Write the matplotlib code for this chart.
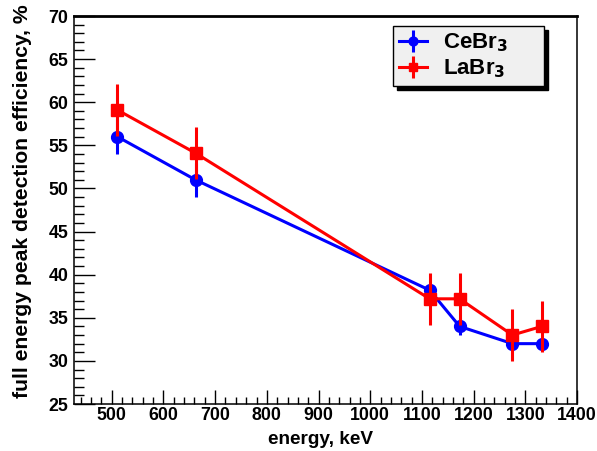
import matplotlib.pyplot as plt
from matplotlib.ticker import MultipleLocator

plt.rcParams['font.family'] = ['Liberation Sans', 'DejaVu Sans']
plt.rcParams['font.weight'] = 'bold'
plt.rcParams['mathtext.default'] = 'bf'

energy = [511, 662, 1115, 1173, 1275, 1332]
cebr3 = [56.0, 51.0, 38.2, 34.0, 32.0, 32.0]
cebr3_err = [2, 2, 0.5, 1, 0.5, 0.5]
labr3 = [59.1, 54.1, 37.2, 37.2, 33.0, 34.0]
labr3_err = [3, 3, 3, 3, 3, 3]

fig = plt.figure(figsize=(5.97, 4.51), dpi=100)
ax = fig.add_axes([0.124, 0.1042, 0.8425, 0.8603])

ax.errorbar(energy, cebr3, yerr=cebr3_err, color='#0000ff', marker='o',
            markersize=8.5, lw=2.2, elinewidth=2.2, capsize=0,
            label='CeBr$_3$', zorder=3)
ax.errorbar(energy, labr3, yerr=labr3_err, color='#ff0000', marker='s',
            markersize=8, lw=2.2, elinewidth=2.2, capsize=0,
            label='LaBr$_3$', zorder=4)

ax.set_xlim(427, 1400)
ax.set_ylim(25, 70)
ax.xaxis.set_major_locator(MultipleLocator(100))
ax.xaxis.set_minor_locator(MultipleLocator(20))
ax.yaxis.set_major_locator(MultipleLocator(5))
ax.yaxis.set_minor_locator(MultipleLocator(1))

ax.tick_params(axis='both', which='both', direction='in', labelsize=12.8,
               top=False, right=False)
ax.tick_params(axis='y', which='major', length=15, width=1, pad=4)
ax.tick_params(axis='y', which='minor', length=7, width=1)
ax.tick_params(axis='x', which='major', length=10, width=1, pad=2)
ax.tick_params(axis='x', which='minor', length=5, width=1)
for lab in ax.get_xticklabels() + ax.get_yticklabels():
    lab.set_fontweight('bold')

for s in ax.spines.values():
    s.set_linewidth(1.1)
ax.spines['top'].set_linewidth(2)

ax.set_xlabel('energy, keV', fontsize=13.7, fontweight='bold')
ax.set_ylabel('full energy peak detection efficiency, %', fontsize=15.2,
              fontweight='bold')
ax.xaxis.set_label_coords(0.49, -0.07)
ax.yaxis.set_label_coords(-0.083, 0.523)

leg = ax.legend(loc='upper left',
                bbox_to_anchor=(393 / 597, 1 - 83 / 451, 151 / 597, 57 / 451),
                bbox_transform=fig.transFigure, mode='expand',
                fontsize=16, frameon=True, fancybox=False, edgecolor='black',
                facecolor='#f0f0f0', framealpha=1,
                shadow={'color': 'black', 'alpha': 1, 'ox': 3, 'oy': -3},
                borderpad=0.25, handlelength=1.3, handletextpad=0.7,
                labelspacing=0.15, markerscale=0.75, borderaxespad=0)
leg.get_frame().set_linewidth(1)
for t in leg.get_texts():
    t.set_fontweight('bold')

fig.savefig('out.png', dpi=100)
